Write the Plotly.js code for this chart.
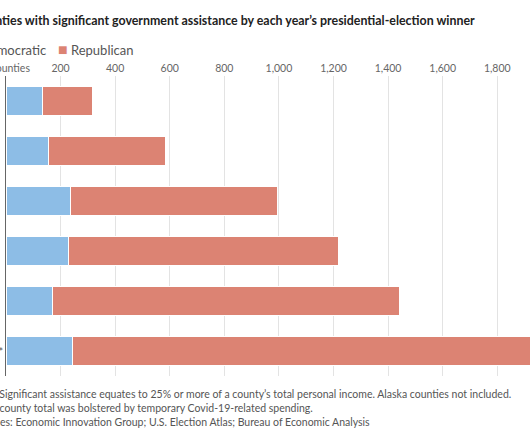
<!DOCTYPE html>
<html>
<head>
<meta charset="utf-8">
<script src="https://cdn.plot.ly/plotly-3.0.1.min.js"></script>
<style>
  html, body { margin: 0; padding: 0; background: #fff; overflow: hidden; }
  #chart { width: 530px; height: 442px; }
</style>
</head>
<body>
<div id="chart"></div>
<script>
// ---- data ----
const years = ['2000', '2004', '2008', '2012', '2016', '2020*'];
const democratic = [132, 154, 238, 229, 171, 242];
const republican = [184, 431, 757, 991, 1271, 1700];
const seriesNames = ['Democratic', 'Republican'];
const seriesColors = ['#8dbde6', '#dc8373'];
const xTickVals = [0, 200, 400, 600, 800, 1000, 1200, 1400, 1600, 1800];
const xTickText = ['0 counties', '200', '400', '600', '800', '1,000', '1,200', '1,400', '1,600', '1,800'];
const titleText = 'Counties with significant government assistance by each year\u2019s presidential-election winner';
const noteLines = [
  'Note: Significant assistance equates to 25% or more of a county\u2019s total personal income. Alaska counties not included.',
  '*2020 county total was bolstered by temporary Covid-19-related spending.',
  'Sources: Economic Innovation Group; U.S. Election Atlas; Bureau of Economic Analysis'
];

const FONT = 'Lato, "Noto Sans", sans-serif';

const traces = [democratic, republican].map((vals, i) => ({
  type: 'bar',
  orientation: 'h',
  name: seriesNames[i],
  y: years,
  x: vals,
  marker: { color: seriesColors[i], line: { color: '#ffffff', width: 1 } },
  hoverinfo: 'skip',
  showlegend: false
}));

const annotations = [];
// title
annotations.push({
  xref: 'paper', yref: 'paper', x: 0, y: 1, xanchor: 'left', yanchor: 'middle',
  xshift: -35, yshift: 56, showarrow: false,
  text: '<b>' + titleText + '</b>',
  font: { family: FONT, size: 12.4, color: '#222' }
});
// legend
const legendShift = [-41, 50];
seriesNames.forEach((n, i) => {
  annotations.push({
    xref: 'paper', yref: 'paper', x: 0, y: 1, xanchor: 'left', yanchor: 'middle',
    xshift: legendShift[i], yshift: 28, showarrow: false,
    text: '<span style="color:' + seriesColors[i] + ';font-size:16px">\u25A0</span>\u00A0' + n,
    font: { family: FONT, size: 13, color: '#555' }
  });
});
// year labels (left-aligned, mostly cropped by the page edge)
years.forEach((y, i) => {
  annotations.push({
    xref: 'paper', yref: 'y', x: 0, y: i, xanchor: 'left', yanchor: 'middle',
    xshift: -35.5, showarrow: false, text: y,
    font: { family: FONT, size: 11, color: '#555' }
  });
});
// notes
const noteShift = [-37, -40, -34];
noteLines.forEach((t, i) => {
  annotations.push({
    xref: 'paper', yref: 'paper', x: 0, y: 0, xanchor: 'left', yanchor: 'middle',
    xshift: noteShift[i], yshift: -18 - 14 * i, showarrow: false, align: 'left',
    text: t,
    font: { family: FONT, size: 10.5, color: '#555' }
  });
});

const layout = {
  width: 530, height: 442,
  margin: { l: 6, r: 0, t: 76, b: 66, pad: 0 },
  paper_bgcolor: '#ffffff', plot_bgcolor: '#ffffff',
  barmode: 'stack',
  bargap: 0.42,
  showlegend: false,
  font: { family: FONT, color: '#555' },
  xaxis: {
    side: 'top',
    range: [0, 1920],
    tickvals: xTickVals,
    ticktext: xTickText,
    ticks: '',
    showgrid: true,
    gridcolor: '#e3e3e3',
    gridwidth: 1,
    zeroline: false,
    showline: false,
    tickfont: { family: FONT, size: 10.5, color: '#666' },
    ticklabelstandoff: 1,
    ticklabeloverflow: 'allow',
    fixedrange: true
  },
  yaxis: {
    type: 'category',
    range: [5.5, -0.5],
    autorange: false,
    showticklabels: false,
    ticks: '',
    showgrid: false,
    zeroline: false,
    showline: true,
    linecolor: '#666',
    linewidth: 1.5,
    fixedrange: true
  },
  annotations: annotations
};

Plotly.newPlot('chart', traces, layout, { displayModeBar: false, staticPlot: true });
</script>
</body>
</html>
